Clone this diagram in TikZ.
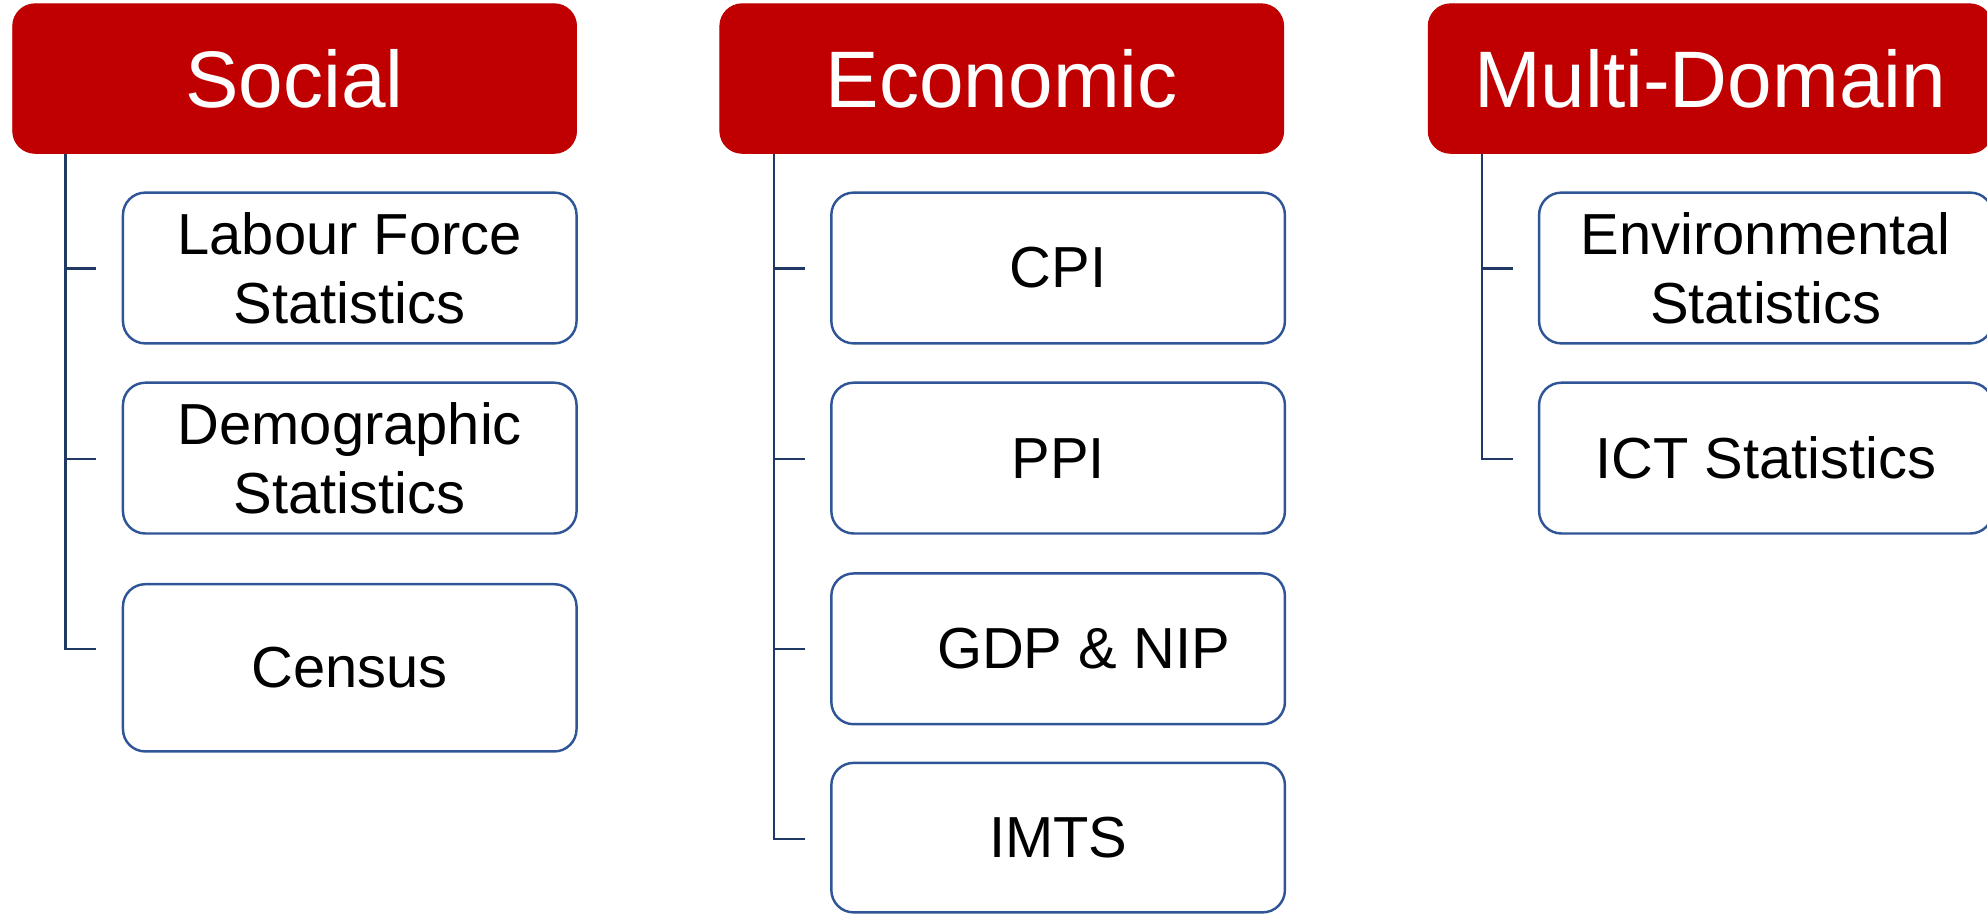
\documentclass[tikz,border=0pt]{standalone}
\usepackage{fontspec}
\setmainfont{Liberation Sans}
\definecolor{hred}{RGB}{192,0,0}
\definecolor{iblue}{RGB}{47,85,151}
\definecolor{cblue}{RGB}{31,56,100}
\begin{document}
\begin{tikzpicture}[x=0.02cm,y=-0.02cm,
  head/.style={fill=hred,draw=hred,rounded corners=10pt,minimum width=8.9cm,minimum height=2.36cm,
    text=white,font=\fontsize{36}{40}\selectfont,inner sep=0pt},
  item/.style={draw=iblue,line width=1.1pt,fill=white,rounded corners=10pt,minimum width=7.16cm,
    minimum height=2.38cm,align=center,font=\fontsize{26}{31}\selectfont,inner sep=0pt},
  conn/.style={draw=cblue,line width=1.1pt}]
\useasboundingbox (0,0) rectangle (1568,722);
% headers
\node[head] (soc) at (232.5,62) {Social};
\node[head] (eco) at (790.5,62) {Economic};
\node[head] (mul) at (1349.5,62) {Multi-Domain};
% social items
\node[item] (lab) at (276,211.5) {Labour Force\\Statistics};
\node[item] (dem) at (276,361.5) {Demographic\\Statistics};
\node[item,minimum height=2.64cm] (cen) at (276,527) {Census};
% economic items
\node[item] (cpi) at (835,211.5) {CPI};
\node[item] (ppi) at (835,361.5) {PPI};
\node[item] (gdp) at (835,512) {\hspace*{0.8cm}GDP \& NIP};
\node[item,minimum height=2.36cm] (imt) at (835,661) {IMTS};
% multi-domain items
\node[item] (env) at (1393.5,211.5) {Environmental\\Statistics};
\node[item] (ict) at (1393.5,361.5) {ICT Statistics};
% tick end points
\coordinate (s1) at (76,212);
\coordinate (s2) at (76,362);
\coordinate (s3) at (76,512);
\coordinate (e1) at (635,212);
\coordinate (e2) at (635,362);
\coordinate (e3) at (635,512);
\coordinate (e4) at (635,662);
\coordinate (m1) at (1194,212);
\coordinate (m2) at (1194,362);
% connectors
\foreach \t in {s1,s2,s3}{\draw[conn] ([xshift=0.84cm]soc.south west) |- (\t);}
\foreach \t in {e1,e2,e3,e4}{\draw[conn] ([xshift=0.86cm]eco.south west) |- (\t);}
\foreach \t in {m1,m2}{\draw[conn] ([xshift=0.86cm]mul.south west) |- (\t);}
\end{tikzpicture}
\end{document}
